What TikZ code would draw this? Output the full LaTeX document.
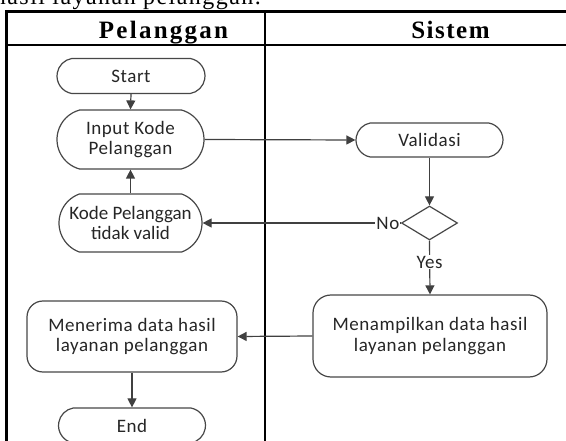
\documentclass[tikz,border=0pt]{standalone}
\usepackage{fontspec}
\setmainfont{Carlito}
\newfontfamily\serifhead{Liberation Serif}
\usetikzlibrary{arrows.meta,shapes.misc,shapes.geometric}

\newcommand\flowfont{\fontsize{19}{20.5}\selectfont\addfontfeature{LetterSpace=3}}
\newcommand\tightflowfont{\fontsize{19}{20.5}\selectfont}

\begin{document}
\begin{tikzpicture}[x=1pt,y=-1pt,
  flow/.style={draw=black!72, line width=1.2pt, fill=white, text=black!85,
    font=\flowfont, align=center, inner sep=0pt},
  terminal/.style={flow, rounded rectangle, rounded rectangle arc length=#1},
  terminal/.default=160,
  procbox/.style={flow, rectangle, rounded corners=#1},
  decision/.style={draw=black!72, line width=1.2pt, fill=white, diamond, inner sep=0pt},
  link/.style={draw=black!75, line width=1.2pt, -{Triangle[length=9pt,width=9pt]}},
  lane/.style={line width=2.6pt, draw=black},
  lanehead/.style={font=\serifhead\bfseries\fontsize{25}{28}\selectfont\addfontfeature{LetterSpace=#1}, anchor=base},
  lbl/.style={fill=white, text=black!85, font=\flowfont, inner sep=1pt}
]
\useasboundingbox (0,0) rectangle (566,441);
\clip (0,0) rectangle (566,441);

% tail of the sentence above the table
\node[font=\serifhead\fontsize{24}{27}\selectfont\addfontfeature{LetterSpace=6},
  anchor=base east, inner sep=0pt] (caption) at (261,5) {hasil layanan pelanggan.};

% swimlane table
\draw[lane] (600,11.5) -- (6.5,11.5) -- (6.5,470);
\draw[lane] (6.5,45) -- (600,45);
\draw[lane] (265,11.5) -- (265,470);

\node[lanehead=9] (lanecust) at (163.5,39) {Pelanggan};
\node[lanehead=6] (lanesys) at (450.5,39) {Sistem};

% flow nodes
\node[terminal, minimum width=148pt, minimum height=35pt] (start) at (131,76) {Start};
\node[terminal=150, minimum width=147pt, minimum height=59pt] (input) at (130.5,139.5) {Input Kode\\Pelanggan};
\node[terminal=140, font=\tightflowfont, minimum width=143pt, minimum height=58pt] (invalid) at (130.5,223) {Kode Pelanggan\\tidak valid};
\node[terminal, minimum width=147pt, minimum height=34pt] (valid) at (429.5,140) {Validasi};
\node[decision, minimum width=56pt, minimum height=34pt] (check) at (429.5,223) {};
\node[procbox=18pt, minimum width=234pt, minimum height=82pt] (show) at (430,336) {Menampilkan data hasil\\layanan pelanggan};
\node[procbox=16pt, minimum width=210pt, minimum height=71pt] (receive) at (132,336.5) {Menerima data hasil\\layanan pelanggan};
\node[terminal, minimum width=147pt, minimum height=35pt] (finish) at (132,425.5) {End};

% connectors
\draw[link] (start.south) -- (input.north);
\draw[link] (input.east) -- (valid.west);
\draw[link] (valid.south) -- (check.north);
\draw[link] (check.west) -- node[lbl, at start, anchor=east] {No} (invalid.east);
\draw[link] (check.south) -- node[lbl, pos=0.4] {Yes} (show.north);
\draw[link] (invalid.north) -- (input.south);
\draw[link] (show.west) -- (receive.east);
\draw[link] (receive.south) -- (finish.north);
\end{tikzpicture}
\end{document}
